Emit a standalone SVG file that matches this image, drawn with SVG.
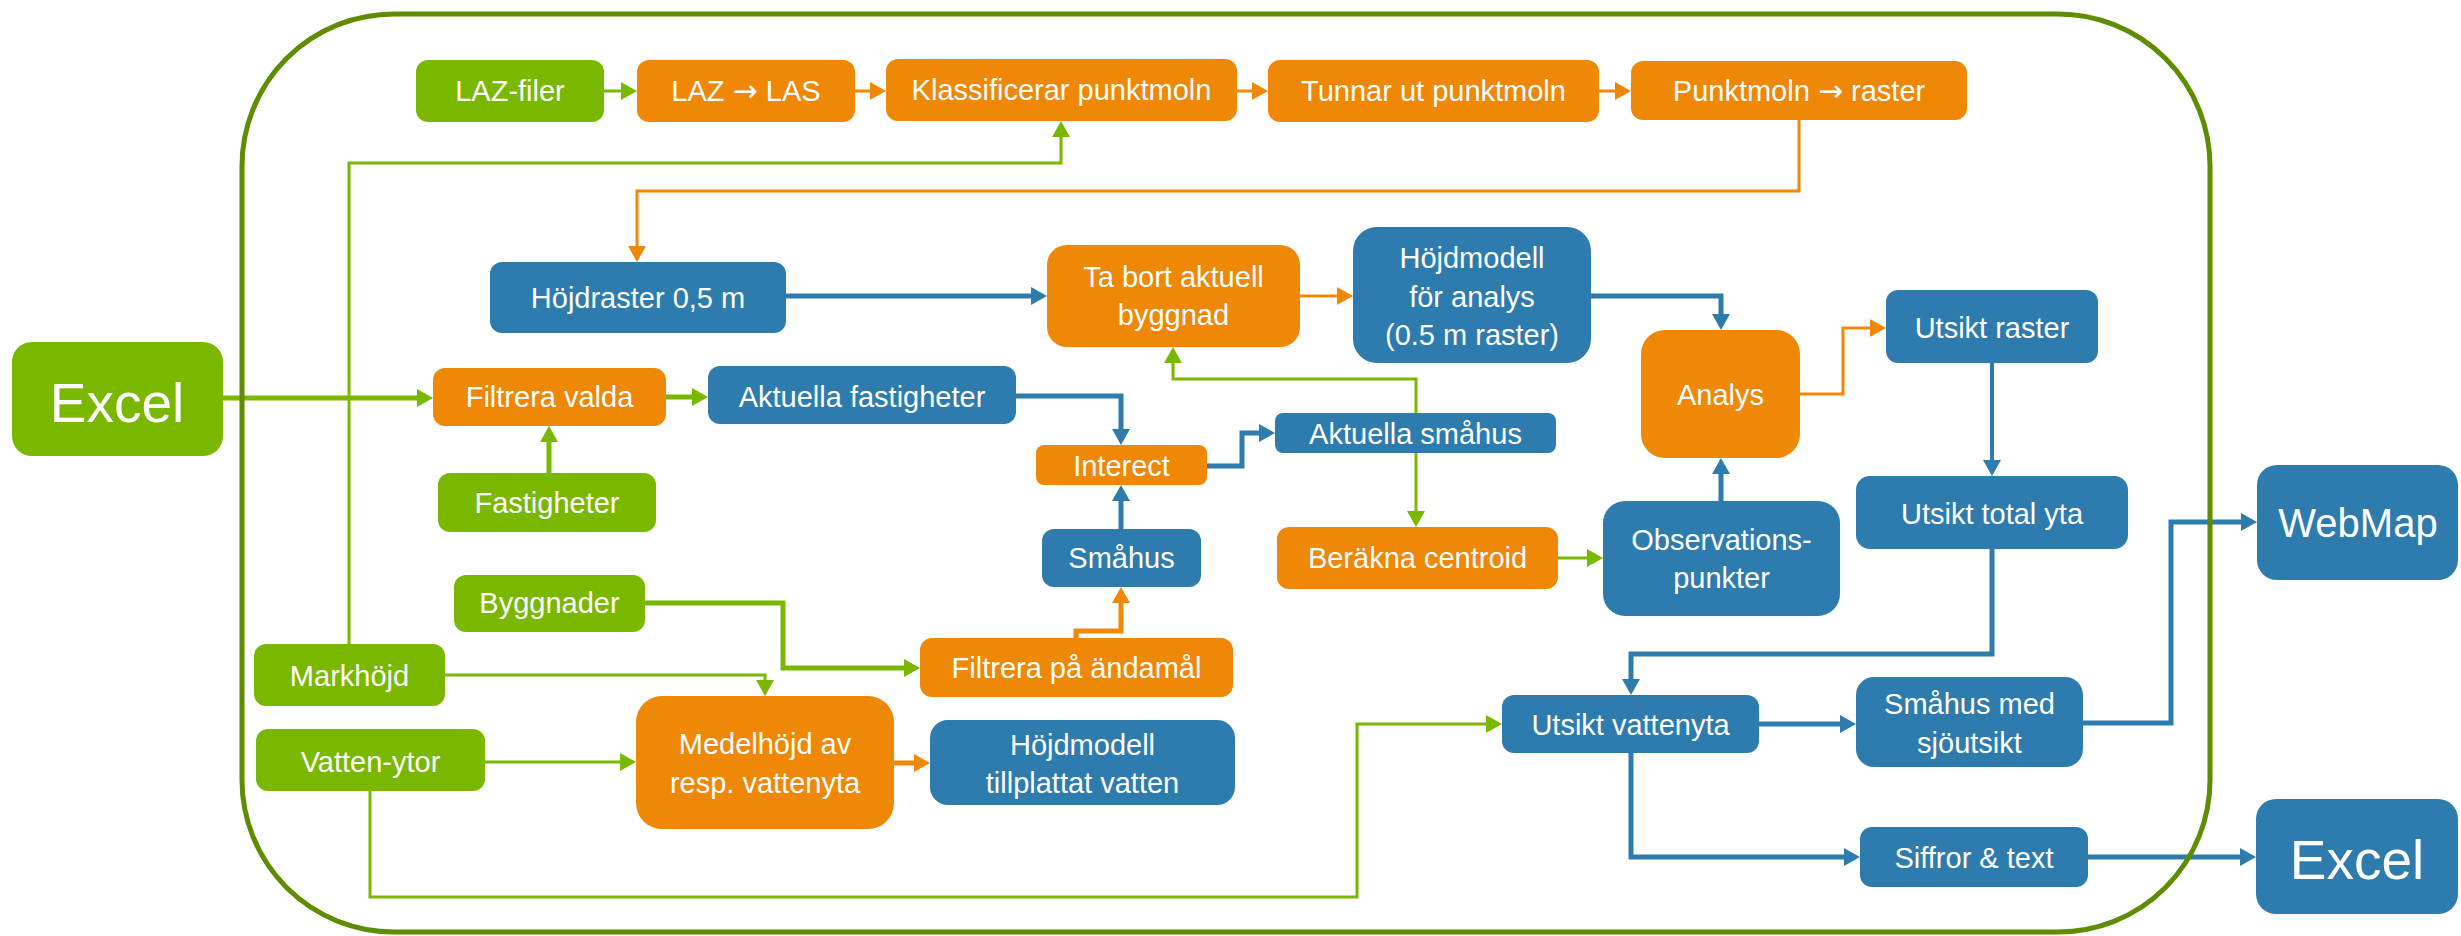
<svg xmlns="http://www.w3.org/2000/svg" width="2461" height="936" viewBox="0 0 2461 936">
<defs>
<style>
.g{fill:#7AB800}.o{fill:#EF8707}.b{fill:#2E7BAD}
text{font-family:"Liberation Sans",Arial,sans-serif;font-size:29px;fill:#fff;text-anchor:middle}
.ar{font-family:"DejaVu Sans",sans-serif;font-size:30px}
.big{font-size:55px}.wm{font-size:40px}
.c{fill:none;stroke-linejoin:miter}
.cg{stroke:#7AB800}.co{stroke:#EF8707}.cb{stroke:#2E7BAD}
.t{stroke-width:3}.k{stroke-width:5}
</style>
<marker id="ag" markerUnits="userSpaceOnUse" markerWidth="16" markerHeight="18" viewBox="0 0 16 18" refX="8" refY="9" orient="auto"><path d="M0,0L16,9L0,18z" fill="#7AB800"/></marker>
<marker id="ao" markerUnits="userSpaceOnUse" markerWidth="16" markerHeight="18" viewBox="0 0 16 18" refX="8" refY="9" orient="auto"><path d="M0,0L16,9L0,18z" fill="#EF8707"/></marker>
<marker id="ab" markerUnits="userSpaceOnUse" markerWidth="16" markerHeight="18" viewBox="0 0 16 18" refX="8" refY="9" orient="auto"><path d="M0,0L16,9L0,18z" fill="#2E7BAD"/></marker>
</defs>
<rect width="2461" height="936" fill="#fff"/>
<g id="connectors">
<path class="c cg t" marker-end="url(#ag)" d="M604,91 H629"/>
<path class="c cg t" marker-end="url(#ag)" d="M349,644 V163 H1061 V129"/>
<path class="c cg t" marker-end="url(#ag)" d="M1416,413 V379 H1173 V355"/>
<path class="c cg t" marker-end="url(#ag)" d="M1416,453 V519"/>
<path class="c cg t" marker-end="url(#ag)" d="M1558,558 H1595"/>
<path class="c cg t" marker-end="url(#ag)" d="M445,675 H765 V688"/>
<path class="c cg t" marker-end="url(#ag)" d="M485,762 H628"/>
<path class="c cg t" marker-end="url(#ag)" d="M370,791 V897 H1357 V724 H1494"/>
<path class="c cg k" marker-end="url(#ag)" d="M223,398 H425"/>
<path class="c cg k" marker-end="url(#ag)" d="M666,397 H700"/>
<path class="c cg k" marker-end="url(#ag)" d="M549,473 V434"/>
<path class="c cg k" marker-end="url(#ag)" d="M645,603 H783 V668 H912"/>
<path class="c co t" marker-end="url(#ao)" d="M855,91 H878"/>
<path class="c co t" marker-end="url(#ao)" d="M1237,91 H1260"/>
<path class="c co t" marker-end="url(#ao)" d="M1599,91 H1623"/>
<path class="c co t" marker-end="url(#ao)" d="M1799,120 V191 H637 V254"/>
<path class="c co t" marker-end="url(#ao)" d="M1300,296 H1345"/>
<path class="c co t" marker-end="url(#ao)" d="M1800,394 H1843 V328 H1878"/>
<path class="c co k" marker-end="url(#ao)" d="M1076,638 V631 H1121 V595"/>
<path class="c co k" marker-end="url(#ao)" d="M894,763 H922"/>
<path class="c cb k" marker-end="url(#ab)" d="M786,296 H1039"/>
<path class="c cb k" marker-end="url(#ab)" d="M1591,296 H1721 V322"/>
<path class="c cb k" marker-end="url(#ab)" d="M1016,396 H1121 V437"/>
<path class="c cb k" marker-end="url(#ab)" d="M1121,529 V493"/>
<path class="c cb k" marker-end="url(#ab)" d="M1207,466 H1242 V433 H1267"/>
<path class="c cb k" marker-end="url(#ab)" d="M1721,501 V466"/>
<path class="c cb" stroke-width="4" marker-end="url(#ab)" d="M1992,363 V468"/>
<path class="c cb k" marker-end="url(#ab)" d="M1992,549 V654 H1631 V687"/>
<path class="c cb k" marker-end="url(#ab)" d="M1759,724 H1848"/>
<path class="c cb k" marker-end="url(#ab)" d="M1631,753 V857 H1852"/>
<path class="c cb k" marker-end="url(#ab)" d="M2088,857 H2248"/>
<path class="c cb k" marker-end="url(#ab)" d="M2083,723 H2171 V522 H2249"/>
</g>
<rect id="frame" x="242" y="14" width="1968" height="918" rx="152" ry="152" fill="none" stroke="#5F8C00" stroke-width="5"/>
<g id="laz-filer"><rect class="g" x="416" y="60" width="188" height="62" rx="12"/><text x="510" y="101">LAZ-filer</text></g>
<g id="laz-las"><rect class="o" x="637" y="60" width="218" height="62" rx="12"/><text x="746" y="101">LAZ <tspan class="ar">→</tspan> LAS</text></g>
<g id="klassificerar"><rect class="o" x="886" y="59" width="351" height="62" rx="12"/><text x="1061.5" y="100">Klassificerar punktmoln</text></g>
<g id="tunnar"><rect class="o" x="1268" y="60" width="331" height="62" rx="12"/><text x="1433.5" y="101">Tunnar ut punktmoln</text></g>
<g id="punktmoln-raster"><rect class="o" x="1631" y="61" width="336" height="59" rx="12"/><text x="1799" y="101">Punktmoln <tspan class="ar">→</tspan> raster</text></g>
<g id="hojdraster"><rect class="b" x="490" y="262" width="296" height="71" rx="12"/><text x="638" y="308">Höjdraster 0,5 m</text></g>
<g id="ta-bort"><rect class="o" x="1047" y="245" width="253" height="102" rx="20"/><text x="1173.5" y="287">Ta bort aktuell</text><text x="1173.5" y="325">byggnad</text></g>
<g id="hojdmodell-analys"><rect class="b" x="1353" y="227" width="238" height="136" rx="24"/><text x="1472" y="268">Höjdmodell</text><text x="1472" y="307">för analys</text><text x="1472" y="345">(0.5 m raster)</text></g>
<g id="analys"><rect class="o" x="1641" y="330" width="159" height="128" rx="24"/><text x="1720.5" y="405">Analys</text></g>
<g id="utsikt-raster"><rect class="b" x="1886" y="290" width="212" height="73" rx="12"/><text x="1992" y="338">Utsikt raster</text></g>
<g id="excel-in"><rect class="g" x="12" y="342" width="211" height="114" rx="20"/><text class="big" x="117" y="422">Excel</text></g>
<g id="filtrera-valda"><rect class="o" x="433" y="368" width="233" height="58" rx="12"/><text x="549.5" y="407">Filtrera valda</text></g>
<g id="aktuella-fastigheter"><rect class="b" x="708" y="366" width="308" height="58" rx="12"/><text x="862" y="407">Aktuella fastigheter</text></g>
<g id="fastigheter"><rect class="g" x="438" y="473" width="218" height="59" rx="12"/><text x="547" y="513">Fastigheter</text></g>
<g id="interect"><rect class="o" x="1036" y="445" width="171" height="40" rx="8"/><text x="1121.5" y="476">Interect</text></g>
<g id="aktuella-smahus"><rect class="b" x="1275" y="413" width="281" height="40" rx="8"/><text x="1415.5" y="444">Aktuella småhus</text></g>
<g id="smahus"><rect class="b" x="1042" y="529" width="159" height="58" rx="12"/><text x="1121.5" y="568">Småhus</text></g>
<g id="berakna-centroid"><rect class="o" x="1277" y="527" width="281" height="62" rx="12"/><text x="1417.5" y="568">Beräkna centroid</text></g>
<g id="observationspunkter"><rect class="b" x="1603" y="501" width="237" height="115" rx="22"/><text x="1721.5" y="550">Observations-</text><text x="1721.5" y="588">punkter</text></g>
<g id="utsikt-total"><rect class="b" x="1856" y="476" width="272" height="73" rx="14"/><text x="1992" y="524">Utsikt total yta</text></g>
<g id="webmap"><rect class="b" x="2257" y="465" width="201" height="115" rx="20"/><text class="wm" x="2358" y="537">WebMap</text></g>
<g id="byggnader"><rect class="g" x="454" y="575" width="191" height="57" rx="12"/><text x="549.5" y="613">Byggnader</text></g>
<g id="markhojd"><rect class="g" x="254" y="644" width="191" height="62" rx="12"/><text x="349.5" y="686">Markhöjd</text></g>
<g id="filtrera-andamal"><rect class="o" x="920" y="638" width="313" height="59" rx="12"/><text x="1076.5" y="678">Filtrera på ändamål</text></g>
<g id="vatten-ytor"><rect class="g" x="256" y="729" width="229" height="62" rx="12"/><text x="370.5" y="772">Vatten-ytor</text></g>
<g id="medelhojd"><rect class="o" x="636" y="696" width="258" height="133" rx="26"/><text x="765" y="754">Medelhöjd av</text><text x="765" y="793">resp. vattenyta</text></g>
<g id="hojdmodell-vatten"><rect class="b" x="930" y="720" width="305" height="85" rx="18"/><text x="1082.5" y="755">Höjdmodell</text><text x="1082.5" y="793">tillplattat vatten</text></g>
<g id="utsikt-vattenyta"><rect class="b" x="1502" y="695" width="257" height="58" rx="12"/><text x="1630.5" y="735">Utsikt vattenyta</text></g>
<g id="smahus-sjoutsikt"><rect class="b" x="1856" y="677" width="227" height="90" rx="18"/><text x="1969.5" y="714">Småhus med</text><text x="1969.5" y="753">sjöutsikt</text></g>
<g id="siffror"><rect class="b" x="1860" y="827" width="228" height="60" rx="12"/><text x="1974" y="868">Siffror &amp; text</text></g>
<g id="excel-out"><rect class="b" x="2256" y="799" width="202" height="115" rx="20"/><text class="big" x="2357" y="879">Excel</text></g>
</svg>
